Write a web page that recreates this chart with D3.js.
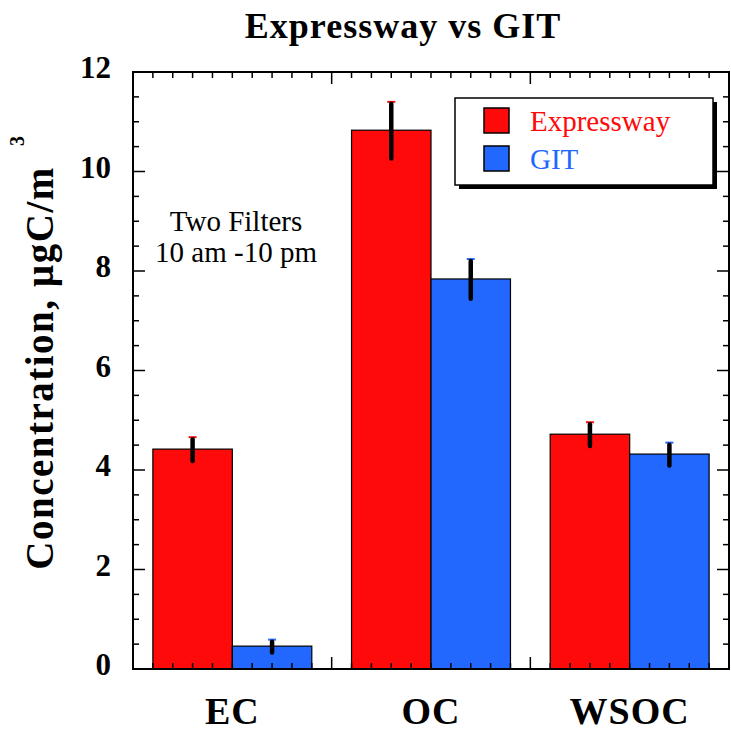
<!DOCTYPE html>
<html>
<head>
<style>
body { margin: 0; background: #fff; }
text { font-family: "Liberation Serif", "Times New Roman", serif; }
</style>
</head>
<body>
<script src="https://d3js.org/d3.v7.min.js"></script>
<script>
var categories = ["EC", "OC", "WSOC"];
var seriesNames = ["Expressway", "GIT"];
var seriesColors = ["#ff0a0a", "#2268ff"];
var expressway = [4.42, 10.83, 4.72];
var expresswayErr = [0.24, 0.57, 0.24];
var git = [0.46, 7.84, 4.32];
var gitErr = [0.13, 0.4, 0.23];
var yTicks = [0, 2, 4, 6, 8, 10, 12];

var width = 731, height = 731;
var pLeft = 133, pRight = 729, pTop = 72, pBottom = 669;

var svg = d3.select("body").append("svg")
    .attr("width", width)
    .attr("height", height);

// x in slot units: each bar 4 units wide, 2 units of gap between groups
var x = d3.scaleLinear().domain([0, 30]).range([pLeft, pRight]);
var y = d3.scaleLinear().domain([0, 12]).range([pBottom, pTop]);

var bars = [];
categories.forEach(function(c, i) {
  bars.push({cat: c, s: 0, x0: 1 + i * 10, v: expressway[i], e: expresswayErr[i]});
  bars.push({cat: c, s: 1, x0: 5 + i * 10, v: git[i], e: gitErr[i]});
});

svg.selectAll("rect.bar").data(bars).enter().append("rect")
    .attr("class", "bar")
    .attr("x", function(d) { return x(d.x0); })
    .attr("width", function(d) { return x(d.x0 + 4) - x(d.x0); })
    .attr("y", function(d) { return y(d.v); })
    .attr("height", function(d) { return y(0) - y(d.v); })
    .attr("fill", function(d) { return seriesColors[d.s]; })
    .attr("stroke", "#000")
    .attr("stroke-width", 1.2);

// ticks inward on all four sides
var minorX = d3.range(0, 31);
var xt = svg.append("g");
minorX.forEach(function(t) {
  var len = (t % 10 === 0) ? 12 : 6;
  xt.append("line").attr("x1", x(t)).attr("x2", x(t))
    .attr("y1", pBottom).attr("y2", pBottom - len).attr("stroke", "#000").attr("stroke-width", 1.5);
  xt.append("line").attr("x1", x(t)).attr("x2", x(t))
    .attr("y1", pTop).attr("y2", pTop + len).attr("stroke", "#000").attr("stroke-width", 1.5);
});

var minorY = d3.range(0, 12.01, 0.5);
var yt = svg.append("g");
minorY.forEach(function(t) {
  var len = (t % 2 === 0) ? 12 : 6;
  yt.append("line").attr("x1", pLeft).attr("x2", pLeft + len)
    .attr("y1", y(t)).attr("y2", y(t)).attr("stroke", "#000").attr("stroke-width", 1.5);
  yt.append("line").attr("x1", pRight).attr("x2", pRight - len)
    .attr("y1", y(t)).attr("y2", y(t)).attr("stroke", "#000").attr("stroke-width", 1.5);
});

svg.append("rect")
    .attr("x", pLeft).attr("y", pTop)
    .attr("width", pRight - pLeft).attr("height", pBottom - pTop)
    .attr("fill", "none").attr("stroke", "#000").attr("stroke-width", 2);

svg.selectAll("text.ytick").data(yTicks).enter().append("text")
    .attr("class", "ytick")
    .attr("x", 111)
    .attr("y", function(d) { return y(d) + 6; })
    .attr("text-anchor", "end")
    .attr("font-size", 31)
    .attr("font-weight", "bold")
    .text(function(d) { return d; });

svg.selectAll("text.xcat").data(categories).enter().append("text")
    .attr("class", "xcat")
    .attr("x", function(d, i) { return x(5 + i * 10); })
    .attr("y", 724)
    .attr("text-anchor", "middle")
    .attr("font-size", 38)
    .attr("font-weight", "bold")
    .attr("letter-spacing", 1)
    .text(function(d) { return d; });

// error bars
var eb = svg.selectAll("g.err").data(bars).enter().append("g").attr("class", "err");
eb.append("line")
    .attr("x1", function(d) { return x(d.x0 + 2) - 4; })
    .attr("x2", function(d) { return x(d.x0 + 2) + 4; })
    .attr("y1", function(d) { return y(d.v + d.e); })
    .attr("y2", function(d) { return y(d.v + d.e); })
    .attr("stroke", function(d) { return seriesColors[d.s]; })
    .attr("stroke-width", 2);
eb.append("line")
    .attr("x1", function(d) { return x(d.x0 + 2); })
    .attr("x2", function(d) { return x(d.x0 + 2); })
    .attr("y1", function(d) { return y(d.v + d.e) + 2; })
    .attr("y2", function(d) { return y(d.v - d.e); })
    .attr("stroke", "#000")
    .attr("stroke-width", 4.5)
    .attr("stroke-linecap", "round");

// title and labels
svg.append("text")
    .attr("x", 403).attr("y", 38)
    .attr("text-anchor", "middle")
    .attr("font-size", 36)
    .attr("font-weight", "bold")
    .attr("letter-spacing", 1)
    .text("Expressway vs GIT");

svg.append("text")
    .attr("transform", "translate(53,368) rotate(-90)")
    .attr("text-anchor", "middle")
    .attr("font-size", 39)
    .attr("font-weight", "bold")
    .attr("letter-spacing", 1.5)
    .text("Concentration, \u00b5gC/m");
svg.append("text")
    .attr("transform", "translate(24,141) rotate(-90)")
    .attr("text-anchor", "middle")
    .attr("font-size", 20)
    .attr("font-weight", "bold")
    .text("3");

var note = svg.append("text")
    .attr("text-anchor", "middle")
    .attr("font-size", 29);
note.append("tspan").attr("x", 236).attr("y", 231).text("Two Filters");
note.append("tspan").attr("x", 236).attr("y", 262).text("10 am -10 pm");

// legend
var lg = svg.append("g").attr("transform", "translate(455,98)");
lg.append("rect").attr("x", 4).attr("y", 4).attr("width", 258).attr("height", 87).attr("fill", "#000");
lg.append("rect").attr("width", 258).attr("height", 87)
    .attr("fill", "#fff").attr("stroke", "#000").attr("stroke-width", 1.5);
seriesNames.forEach(function(n, i) {
  lg.append("rect").attr("x", 29).attr("y", 10 + i * 38)
    .attr("width", 25).attr("height", 25)
    .attr("fill", seriesColors[i]).attr("stroke", "#000").attr("stroke-width", 1.5);
  lg.append("text").attr("x", 75).attr("y", 33 + i * 38)
    .attr("font-size", 29)
    .attr("fill", seriesColors[i])
    .text(n);
});
</script>
</body>
</html>
